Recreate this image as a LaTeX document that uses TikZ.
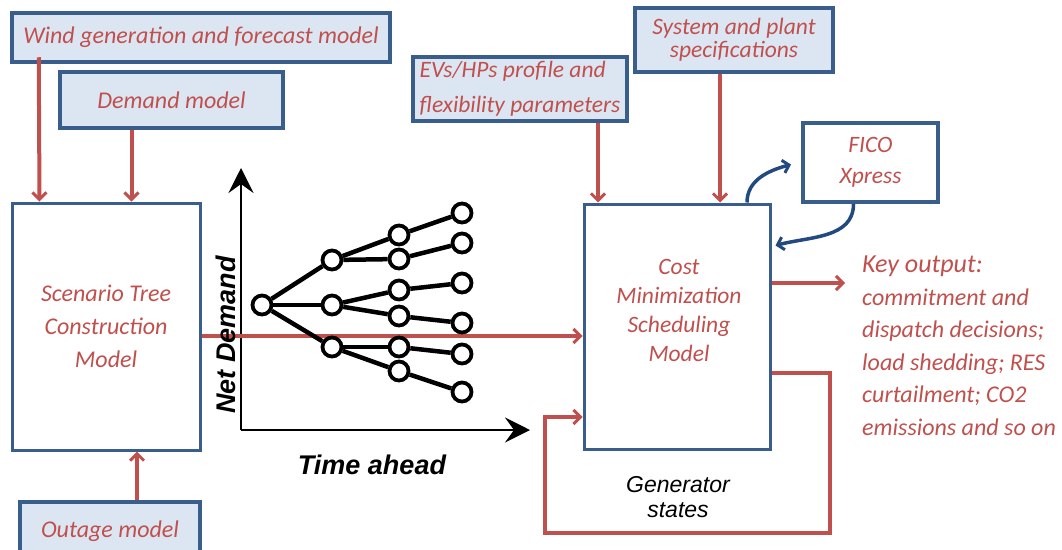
\documentclass[tikz,border=0pt]{standalone}
\usepackage{fontspec}
\setmainfont{Carlito}
\newfontfamily\arialfont{Liberation Sans}
\usetikzlibrary{
  arrows.meta,
  positioning,
  calc
}
\definecolor{navy}{RGB}{58,94,140}
\definecolor{arcblue}{RGB}{34,74,128}
\definecolor{paleblue}{RGB}{220,230,242}
\definecolor{tomato}{RGB}{192,80,77}

\tikzset{
  inbox/.style={draw=navy, line width=4.5pt, fill=paleblue, inner sep=0pt,
    text=tomato, font=\itshape\fontsize{24}{33}\selectfont, align=center},
  mainbox/.style={draw=navy, line width=3pt, fill=white, inner sep=0pt,
    text=tomato, font=\itshape\fontsize{24}{33}\selectfont, align=center},
  redtxt/.style={text=tomato, inner sep=0pt, align=center,
    font=\itshape\fontsize{23.5}{29}\selectfont},
  feed/.style={draw=tomato, line width=4pt,
    -{Straight Barb[length=7pt, width=14pt, line width=3pt]}},
  bluearc/.style={draw=arcblue, line width=3.5pt,
    -{Straight Barb[length=6pt, width=13pt, line width=3pt]}},
  axis/.style={draw=black, line width=2.2pt,
    -{Stealth[length=25pt, width=25pt, inset=9pt]}},
  leaf/.style={circle, draw=black, line width=3.8pt, fill=white,
    minimum size=19pt, inner sep=0pt},
  branch/.style={draw=black, line width=4.5pt}
}

\begin{document}
\begin{tikzpicture}[x=1pt, y=1pt]
  \useasboundingbox (0,0) rectangle (1062,-549);

  % input models
  \node[inbox, minimum width=378, minimum height=49] (wind) at (201,-37.5)
    {Wind generation and forecast model};
  \node[inbox, minimum width=223, minimum height=56] (demand) at (171.5,-100)
    {Demand model};
  \node[inbox, minimum width=180, minimum height=58] (outage) at (110,-531)
    {Outage model};
  \node[inbox, minimum width=214, minimum height=64, align=left,
    font=\itshape\fontsize{23.5}{35}\selectfont] (evs) at (520,-89)
    {EVs/HPs profile and\\flexibility parameters};
  \node[inbox, minimum width=198, minimum height=64,
    font=\itshape\fontsize{23.5}{23}\selectfont] (spec) at (734,-40)
    {System and plant\\specifications};
  \node[mainbox, line width=4pt, minimum width=135, minimum height=79,
    font=\itshape\fontsize{23.5}{31}\selectfont] (fico) at (870.5,-162.5)
    {FICO\\Xpress};

  % main models
  \node[mainbox, minimum width=188, minimum height=247] (scen) at (106,-326.5)
    {Scenario Tree\\Construction\\Model};
  \node[mainbox, minimum width=186, minimum height=245] (cost) at (677,-326.5) {};
  \node[redtxt] (costtxt) at (679,-310)
    {Cost\\Minimization\\Scheduling\\Model};

  % outputs
  \node[redtxt, anchor=north west, align=left,
    font=\itshape\fontsize{24}{32.5}\selectfont] (key) at (862,-256)
    {{\fontsize{26}{32.5}\selectfont Key output:}\\commitment and\\
     dispatch decisions;\\load shedding; RES\\curtailment; CO2\\
     emissions and so on};
  \node[align=center, inner sep=0pt,
    font=\arialfont\itshape\fontsize{23}{25}\selectfont] (gen) at (678,-497)
    {Generator\\states};

  % scenario tree chart
  \coordinate (origin) at (241,-430);
  \coordinate (ytip) at (241,-168);
  \coordinate (xtip) at (530,-430);
  \draw[axis] (origin) -- (ytip);
  \draw[axis] (origin) -- (xtip);

  \draw[feed] ([yshift=-9.5pt]scen.east) -- ([yshift=-9.5pt]cost.west);

  \node[rotate=90, inner sep=0pt,
    font=\arialfont\bfseries\itshape\fontsize{27}{30}\selectfont]
    (ylab) at (226,-335) {Net Demand};
  \node[inner sep=0pt, font=\arialfont\bfseries\itshape\fontsize{27}{30}\selectfont]
    (xlab) at (372,-465) {Time ahead};

  \foreach \n/\x/\y in {r/262/305, a/332/260, b/332/305, c/332/347,
      aa/399/235, ab/399/259, ba/399/290, bb/399/316, ca/399/347, cb/399/371,
      aaa/462/213, aba/462/243, baa/462/283, bba/462/323, caa/462/354, cba/462/392}
    \node[leaf] (\n) at (\x,-\y) {};
  \foreach \p/\c in {r/a, r/b, r/c, a/aa, a/ab, b/ba, b/bb, c/ca, c/cb,
      aa/aaa, ab/aba, ba/baa, bb/bba, ca/caa, cb/cba}
    \draw[branch] (\p) -- (\c);

  % input arrows
  \draw[feed] ([xshift=29pt, yshift=7pt]wind.south west)
    -- ([xshift=29pt]scen.north west);
  \draw[feed] ([xshift=-40pt]demand.south) -- ([xshift=-40pt]demand.south |- scen.north);
  \draw[feed] ([xshift=27pt]outage.north) -- ([xshift=27pt]outage.north |- scen.south);
  \draw[feed] ([xshift=78pt]evs.south) -- ([xshift=78pt]evs.south |- cost.north);
  \draw[feed] ([xshift=-14pt]spec.south) -- ([xshift=-14pt]spec.south |- cost.north);

  % solver link
  \draw[bluearc] ([xshift=70pt]cost.north) to[out=90, in=195]
    ([xshift=-10pt, yshift=-2pt]fico.west);
  \draw[bluearc] ([xshift=-17pt]fico.south) to[out=-90, in=15]
    ([xshift=4pt, yshift=-43pt]cost.north east);

  % outputs and feedback
  \coordinate (keytip) at (845,-283);
  \draw[feed] ([yshift=43.5pt]cost.east) -- (keytip);
  \coordinate (fbR) at (830,-533);
  \coordinate (fbL) at (545,-533);
  \draw[feed] ([yshift=-46.5pt]cost.east) -| (fbR) -| (fbL)
    |- ([yshift=-90.5pt]cost.west);
\end{tikzpicture}
\end{document}
